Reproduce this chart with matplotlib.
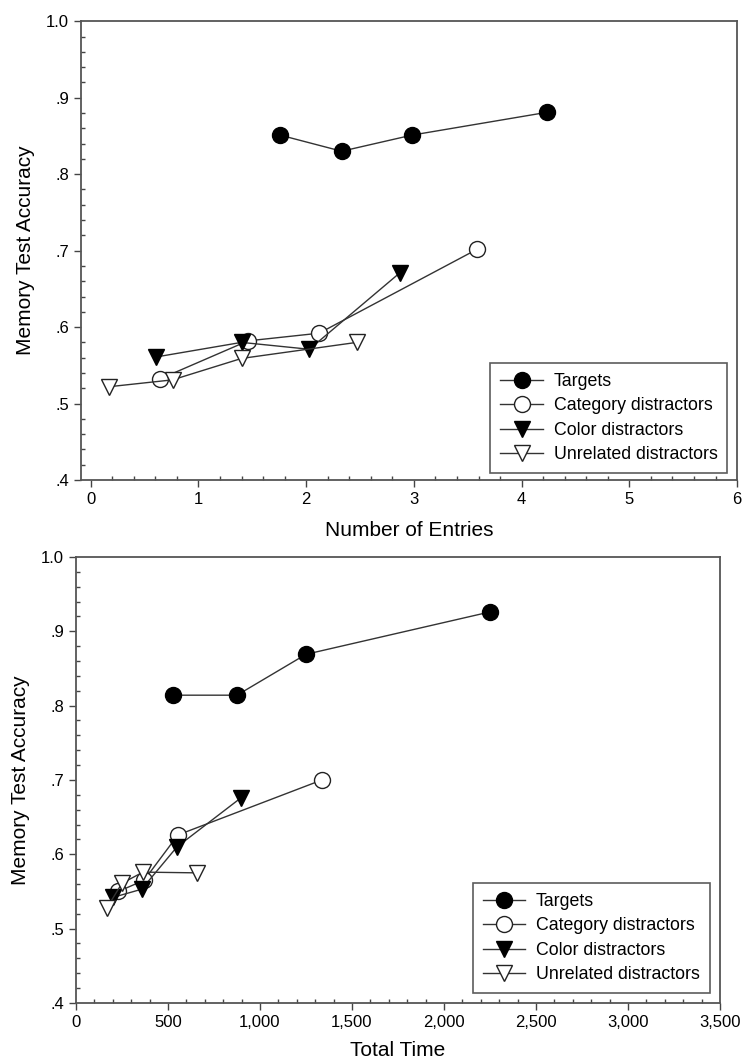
import matplotlib
matplotlib.use("Agg")
import matplotlib.pyplot as plt
from matplotlib.ticker import MultipleLocator, FixedLocator

plt.rcParams['font.family'] = ['Liberation Sans', 'DejaVu Sans']

series_names = ["Targets", "Category distractors", "Color distractors", "Unrelated distractors"]

# Top panel: Number of Entries
entries_targets_x = [1.76, 2.33, 2.98, 4.24]
entries_targets_y = [0.851, 0.830, 0.851, 0.881]
entries_category_x = [0.64, 1.46, 2.12, 3.59]
entries_category_y = [0.532, 0.582, 0.592, 0.702]
entries_color_x = [0.61, 1.40, 2.03, 2.87]
entries_color_y = [0.561, 0.580, 0.571, 0.671]
entries_unrelated_x = [0.17, 0.76, 1.40, 2.47]
entries_unrelated_y = [0.522, 0.531, 0.559, 0.580]

# Bottom panel: Total Time
time_targets_x = [527, 875, 1250, 2250]
time_targets_y = [0.814, 0.814, 0.869, 0.926]
time_category_x = [230, 370, 554, 1337]
time_category_y = [0.550, 0.565, 0.626, 0.700]
time_color_x = [201, 357, 549, 897]
time_color_y = [0.542, 0.553, 0.610, 0.676]
time_unrelated_x = [168, 250, 364, 658]
time_unrelated_y = [0.528, 0.561, 0.576, 0.575]

y_ticks = [0.4, 0.5, 0.6, 0.7, 0.8, 0.9, 1.0]
y_ticklabels = [".4", ".5", ".6", ".7", ".8", ".9", "1.0"]
top_x_ticks = [0, 1, 2, 3, 4, 5, 6]
bottom_x_ticks = [0, 500, 1000, 1500, 2000, 2500, 3000, 3500]
bottom_x_ticklabels = ["0", "500", "1,000", "1,500", "2,000", "2,500", "3,000", "3,500"]

styles = [
    dict(marker='o', markerfacecolor='black', markeredgecolor='black', markersize=11.5),
    dict(marker='o', markerfacecolor='white', markeredgecolor='#222222', markersize=11.5, markeredgewidth=1.0),
    dict(marker='v', markerfacecolor='black', markeredgecolor='black', markersize=11),
    dict(marker='v', markerfacecolor='white', markeredgecolor='#222222', markersize=11, markeredgewidth=1.0),
]

fig = plt.figure(figsize=(7.43, 10.62), dpi=100)
ax1 = fig.add_axes([0.109, 0.548, 0.883, 0.432])
ax2 = fig.add_axes([0.1023, 0.0556, 0.8667, 0.42])

def draw(ax, data):
    for (xs, ys), name, st in zip(data, series_names, styles):
        ax.plot(xs, ys, color='#333333', linewidth=1.0, label=name, **st)

draw(ax1, [(entries_targets_x, entries_targets_y), (entries_category_x, entries_category_y),
           (entries_color_x, entries_color_y), (entries_unrelated_x, entries_unrelated_y)])
draw(ax2, [(time_targets_x, time_targets_y), (time_category_x, time_category_y),
           (time_color_x, time_color_y), (time_unrelated_x, time_unrelated_y)])

for ax in (ax1, ax2):
    ax.set_ylim(0.4, 1.0)
    ax.yaxis.set_major_locator(FixedLocator(y_ticks))
    ax.set_yticklabels(y_ticklabels)
    ax.yaxis.set_minor_locator(MultipleLocator(0.02))
    ax.set_ylabel("Memory Test Accuracy", fontsize=15, labelpad=8)
    ax.tick_params(axis='both', which='major', direction='out', length=5, width=1, labelsize=12, color='#444444')
    ax.tick_params(axis='both', which='minor', direction='in', length=3, width=1, color='#444444')
    ax.tick_params(top=False, right=False, which='both')
    for sp in ax.spines.values():
        sp.set_color('#555555')
        sp.set_linewidth(1.3)
    leg = ax.legend(loc='lower right', fontsize=12.8, frameon=True, fancybox=False,
                    edgecolor='#333333', handlelength=2.4, borderpad=0.55,
                    labelspacing=0.42, handletextpad=0.6, borderaxespad=0)
    leg.get_frame().set_linewidth(1.2)

ax1.set_xlim(-0.09, 6.0)
ax1.xaxis.set_major_locator(FixedLocator(top_x_ticks))
ax1.xaxis.set_minor_locator(MultipleLocator(0.2))
ax1.set_xlabel("Number of Entries", fontsize=15, labelpad=10)
ax1.legend_.set_bbox_to_anchor((0.985, 0.015))

ax2.set_xlim(0, 3500)
ax2.xaxis.set_major_locator(FixedLocator(bottom_x_ticks))
ax2.set_xticklabels(bottom_x_ticklabels)
ax2.xaxis.set_minor_locator(MultipleLocator(100))
ax2.set_xlabel("Total Time", fontsize=15, labelpad=8)
ax2.legend_.set_bbox_to_anchor((0.984, 0.022))

fig.savefig("out.png", dpi=100)
